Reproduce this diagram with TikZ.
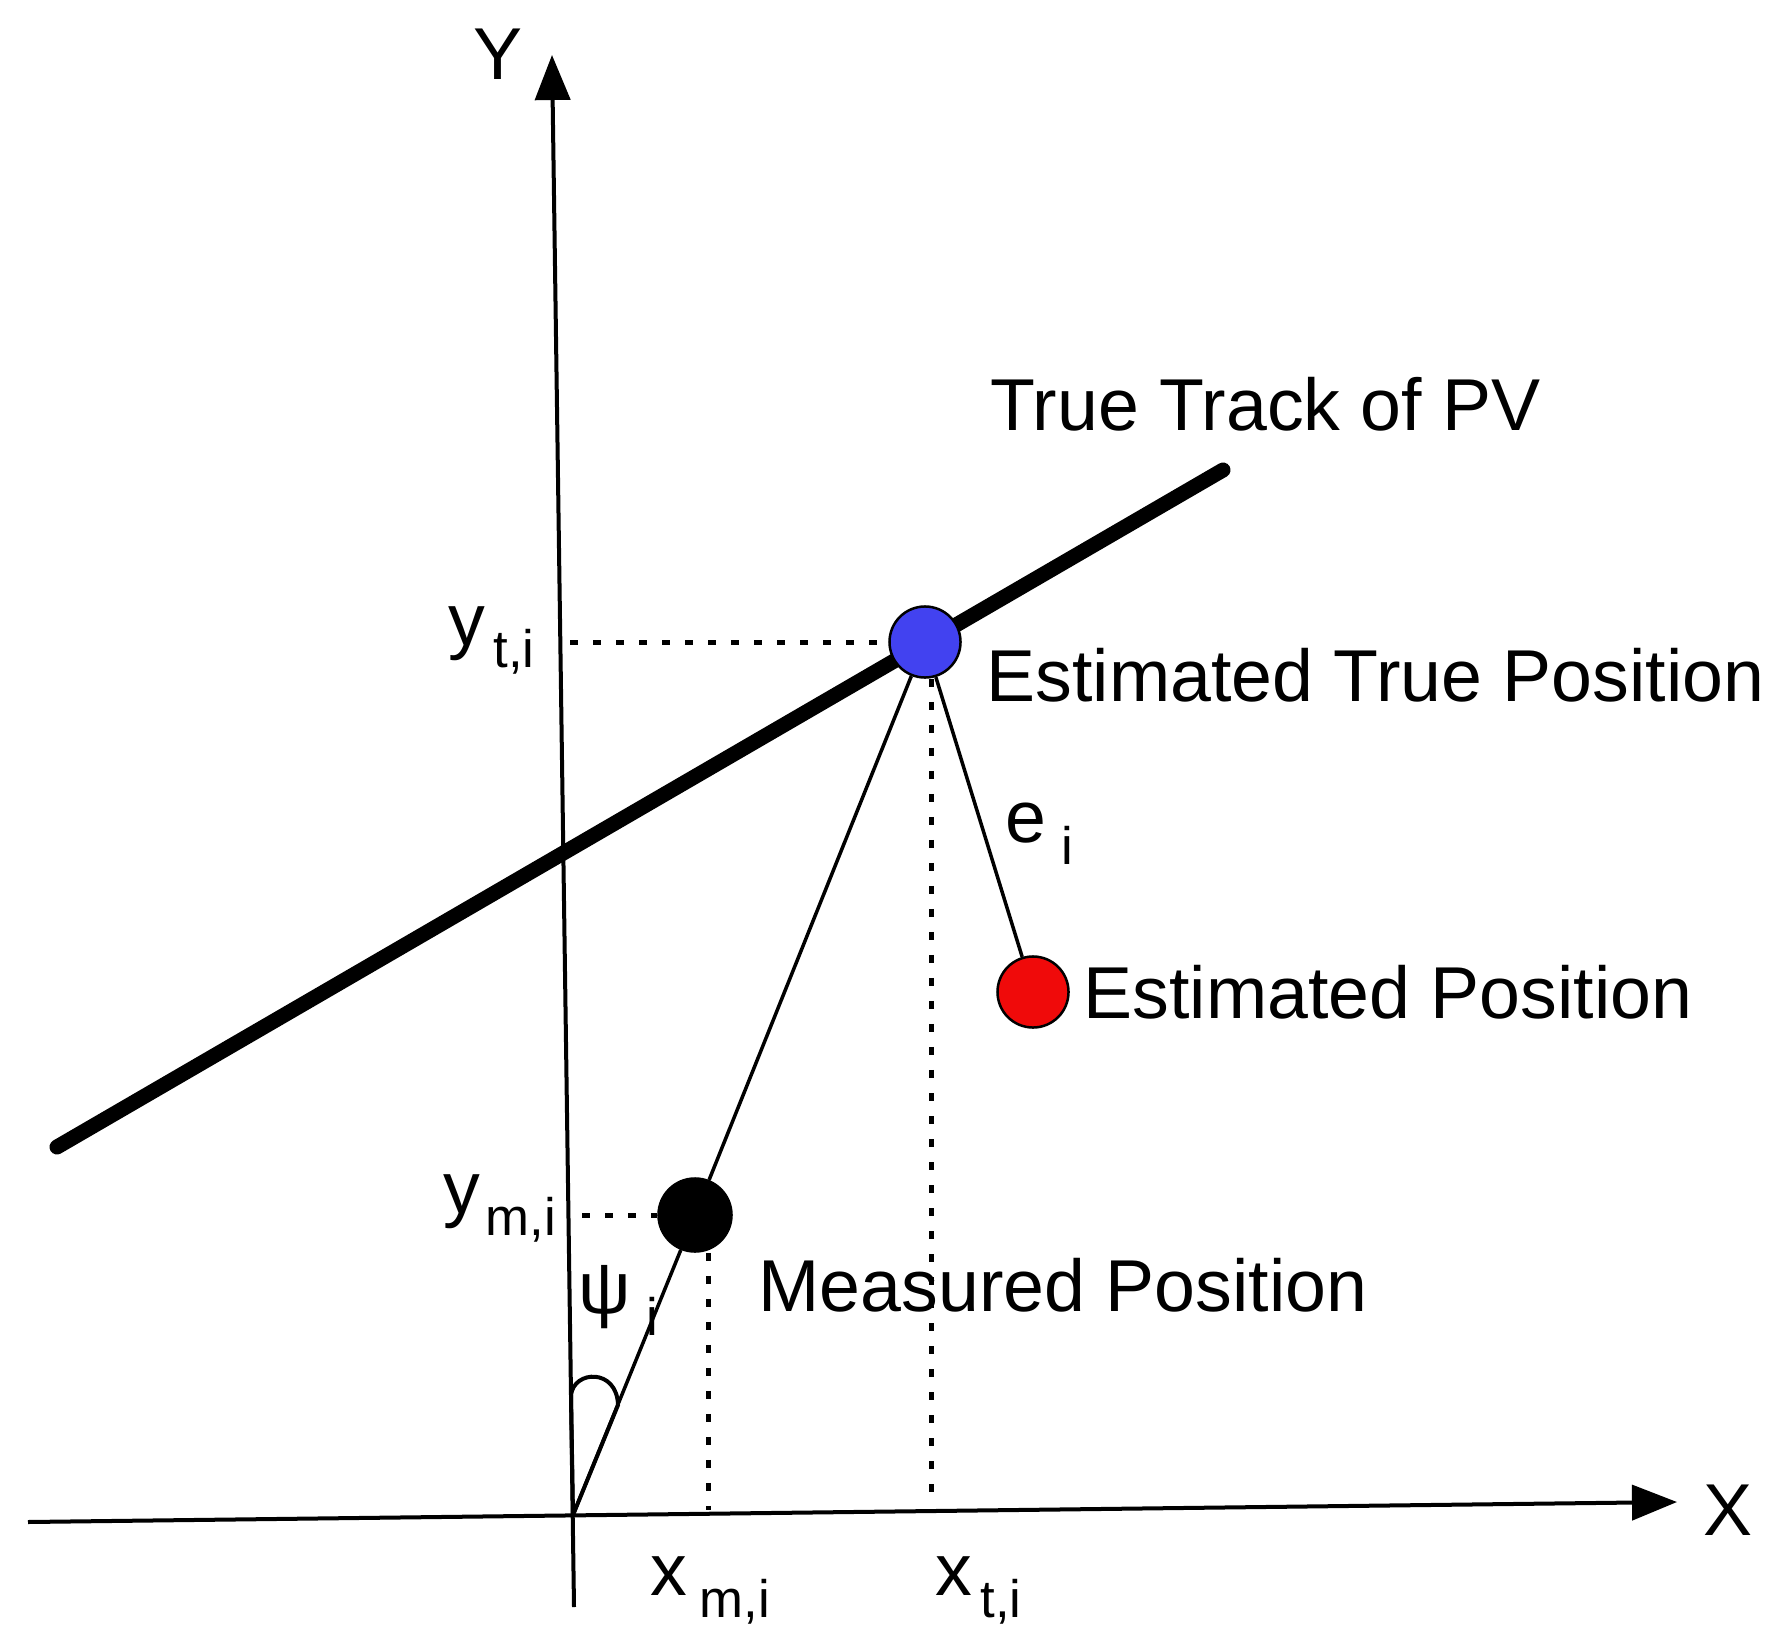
\documentclass[tikz,border=0pt]{standalone}
\usepackage{fontspec}
\setmainfont{Liberation Sans}
\usetikzlibrary{arrows.meta}
\definecolor{ptblue}{RGB}{66,66,240}
\definecolor{ptred}{RGB}{240,10,10}
\newcommand\lsub[2][0.08cm]{\hspace{#1}\raisebox{-0.22cm}{\fontsize{15}{15}\selectfont #2}}
\begin{document}
\begin{tikzpicture}[x=0.01cm, y=-0.01cm,
  axis/.style={line width=0.04cm, -{Triangle[length=0.45cm,width=0.35cm]}},
  track/.style={line width=0.15cm, line cap=round},
  thinline/.style={line width=0.035cm},
  dotline/.style={line width=0.05cm, dash pattern=on 0.08cm off 0.15cm},
  pt/.style={circle, draw=black, line width=0.025cm, minimum size=0.71cm, inner sep=0pt},
  lbl/.style={font=\fontsize{20.9}{25}\selectfont, inner sep=0pt, anchor=base west}]
\useasboundingbox (0,0) rectangle (1788,1649);
\coordinate (O) at (573,1515);
\coordinate (Ybot) at (574,1607);
\coordinate (Ytip) at (552,55);
\coordinate (Xleft) at (28,1522);
\coordinate (Xtip) at (1677,1502);
\coordinate (Tl) at (57,1147);
\coordinate (Tr) at (1223,470);

\draw[axis] (Ybot) -- (Ytip);
\draw[axis] (Xleft) -- (Xtip);
\draw[track] (Tl) -- (Tr);

\node[pt, fill=ptblue] (blue) at (925,642) {};
\node[pt, fill=ptred] (red) at (1033,992) {};
\node[pt, fill=black, minimum size=0.73cm] (meas) at (695,1215) {};

\draw[thinline] (O) -- (meas);
\draw[thinline] (meas) -- (blue);
\draw[thinline] (blue) -- (red);

\coordinate (ytA) at (570,642);
\draw[dotline] (ytA) -- (blue.west);
\coordinate (xtA) at (931,1505);
\draw[dotline] (xtA |- blue.south) -- (xtA);
\coordinate (ymA) at (582,1215);
\draw[dotline] (ymA) -- (meas.west);
\coordinate (xmA) at (708,1510);
\draw[dotline] (xmA |- meas.south) -- (xmA);

\coordinate (arcA) at (571,1395);
\coordinate (arcB) at (618,1405);
\draw[line width=0.04cm] (O) -- (arcA) .. controls (574,1370) and (617,1368) .. (arcB) -- cycle;

\node[lbl, anchor=base] (Ylab) at (498,80) {Y};
\node[lbl, anchor=base] (Xlab) at (1728,1535) {X};
\node[lbl] (trk) at (990,430) {True Track of PV};
\node[lbl] (etp) at (986,701) {Estimated True Position};
\node[lbl] (ep) at (1083,1018) {Estimated Position};
\node[lbl] (mp) at (758,1311) {Measured Position};
\node[lbl] (ytl) at (448,645) {y\lsub{t,i}};
\node[lbl] (yml) at (443,1213) {y\lsub[0.05cm]{m,i}};
\node[lbl] (psil) at (578,1313) {ψ\lsub[0.15cm]{i}};
\node[lbl] (eil) at (1005,842) {e\lsub[0.15cm]{i}};
\node[lbl] (xml) at (650,1595) {x\lsub[0.12cm]{m,i}};
\node[lbl] (xtl) at (935,1595) {x\lsub[0.08cm]{t,i}};
\end{tikzpicture}
\end{document}
